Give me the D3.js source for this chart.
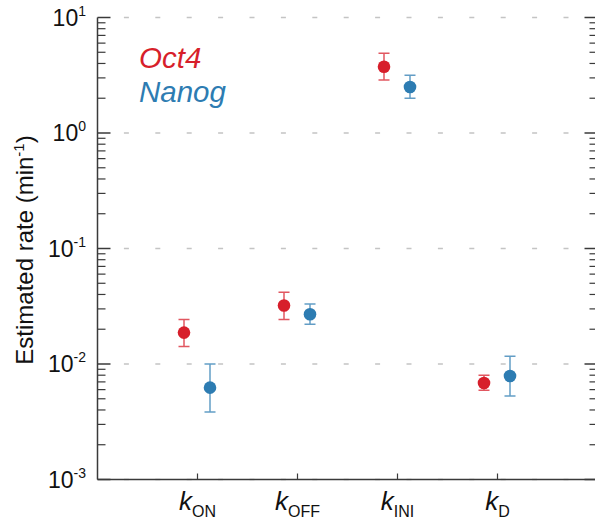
<!DOCTYPE html>
<html>
<head>
<meta charset="utf-8">
<script src="https://cdn.jsdelivr.net/npm/d3@7"></script>
<style>
  body { margin: 0; background: #fff; }
  svg { display: block; font-family: "Liberation Sans", Arial, sans-serif; }
</style>
</head>
<body>
<svg id="chart" width="595" height="519"></svg>
<script>
// rate constants, x positions 1..4
const params = ['ON', 'OFF', 'INI', 'D'];
const oct4Val = [0.0187, 0.0321, 3.75, 0.00685];
const oct4Lo = [0.0142, 0.0243, 2.87, 0.00592];
const oct4Hi = [0.0243, 0.0418, 4.9, 0.00798];
const nanogVal = [0.00624, 0.027, 2.5, 0.00787];
const nanogLo = [0.00384, 0.0221, 2.0, 0.00528];
const nanogHi = [0.01, 0.0331, 3.16, 0.01167];
const decades = [-3, -2, -1, 0, 1];

const svg = d3.select('#chart');
const x = d3.scaleLinear().domain([0, 5]).range([97.5, 597.5]);
const y = d3.scaleLog().domain([1e-3, 10]).range([479.5, 17.5]);

const red = '#d71f2b';
const blue = '#2d7cb2';
const axisCol = '#3a3a3a';

// dashed gridlines at each decade
svg.append('g').selectAll('line')
    .data(decades)
    .enter()
    .append('line')
    .attr('x1', x(0)).attr('x2', x(5))
    .attr('y1', d => y(Math.pow(10, d))).attr('y2', d => y(Math.pow(10, d)))
    .attr('stroke', '#c4c4c4')
    .attr('stroke-width', 1.5)
    .attr('stroke-dasharray', '5 26.4')
    .attr('stroke-dashoffset', 5);

// minor + major ticks for both side axes
const tickVals = [];
decades.forEach(d => {
    tickVals.push({v: Math.pow(10, d), major: true});
    if (d < 1) {
        for (let m = 2; m <= 9; m++) tickVals.push({v: m * Math.pow(10, d), major: false});
    }
});

[x(0), x(5)].forEach((ax, side) => {
    const dir = side === 0 ? 1 : -1;
    svg.append('g').selectAll('line')
        .data(tickVals)
        .enter()
        .append('line')
        .attr('x1', ax)
        .attr('x2', d => ax + dir * (d.major ? 13 : 8))
        .attr('y1', d => y(d.v)).attr('y2', d => y(d.v))
        .attr('stroke', axisCol)
        .attr('stroke-width', d => d.major ? 1.5 : 1.2);
    svg.append('line')
        .attr('x1', ax).attr('x2', ax)
        .attr('y1', y(10)).attr('y2', y(1e-3))
        .attr('stroke', axisCol).attr('stroke-width', 1.5);
});

// bottom axis
svg.append('line')
    .attr('x1', x(0)).attr('x2', x(5))
    .attr('y1', y(1e-3)).attr('y2', y(1e-3))
    .attr('stroke', axisCol).attr('stroke-width', 1.5);
svg.append('g').selectAll('line')
    .data(params)
    .enter()
    .append('line')
    .attr('x1', (d, i) => x(i + 1)).attr('x2', (d, i) => x(i + 1))
    .attr('y1', y(1e-3)).attr('y2', y(1e-3) - 6)
    .attr('stroke', axisCol).attr('stroke-width', 1.2);

// y tick labels 10^n
const yLab = svg.append('g').selectAll('text')
    .data(decades)
    .enter()
    .append('text')
    .attr('x', 86)
    .attr('y', d => y(Math.pow(10, d)) + 8)
    .attr('text-anchor', 'end')
    .attr('font-size', 23)
    .attr('fill', '#111');
yLab.append('tspan').text('10');
yLab.append('tspan').attr('font-size', 14).attr('dy', -10).text(d => d);

// x tick labels k_sub
const xLab = svg.append('g').selectAll('text')
    .data(params)
    .enter()
    .append('text')
    .attr('x', (d, i) => x(i + 1))
    .attr('y', 510)
    .attr('text-anchor', 'middle')
    .attr('fill', '#111');
xLab.append('tspan').attr('font-size', 26).attr('font-style', 'italic').text('k');
xLab.append('tspan').attr('font-size', 16).attr('dy', 7).text(d => d);

// y axis title
const yTitle = svg.append('text')
    .attr('transform', 'translate(33,250) rotate(-90)')
    .attr('text-anchor', 'middle')
    .attr('font-size', 24)
    .attr('fill', '#111');
yTitle.append('tspan').text('Estimated rate (min');
yTitle.append('tspan').attr('font-size', 15).attr('dy', -9).text('-1');
yTitle.append('tspan').attr('dy', 9).text(')');

// data series
const series = [
    {name: 'Oct4', col: red, val: oct4Val, lo: oct4Lo, hi: oct4Hi, off: -13.5},
    {name: 'Nanog', col: blue, val: nanogVal, lo: nanogLo, hi: nanogHi, off: 12.5}
];

series.forEach(s => {
    const g = svg.append('g');
    const pts = s.val.map((v, i) => ({i: i, v: v, lo: s.lo[i], hi: s.hi[i]}));
    const px = d => x(d.i + 1) + s.off;
    // error bars
    g.selectAll('.eb')
        .data(pts)
        .enter()
        .append('path')
        .attr('d', d => `M${px(d) - 5.5},${y(d.hi)}H${px(d) + 5.5}M${px(d)},${y(d.hi)}V${y(d.lo)}M${px(d) - 5.5},${y(d.lo)}H${px(d) + 5.5}`)
        .attr('fill', 'none')
        .attr('stroke', s.col)
        .attr('stroke-opacity', 0.75)
        .attr('stroke-width', 1.5);
    g.selectAll('circle')
        .data(pts)
        .enter()
        .append('circle')
        .attr('cx', px)
        .attr('cy', d => y(d.v))
        .attr('r', 6.3)
        .attr('fill', s.col);
});

// legend
svg.append('text').attr('x', 139).attr('y', 68)
    .attr('font-size', 29.5).attr('font-style', 'italic')
    .attr('fill', red).text('Oct4');
svg.append('text').attr('x', 139).attr('y', 101.5)
    .attr('font-size', 29.5).attr('font-style', 'italic')
    .attr('fill', blue).text('Nanog');
</script>
</body>
</html>
